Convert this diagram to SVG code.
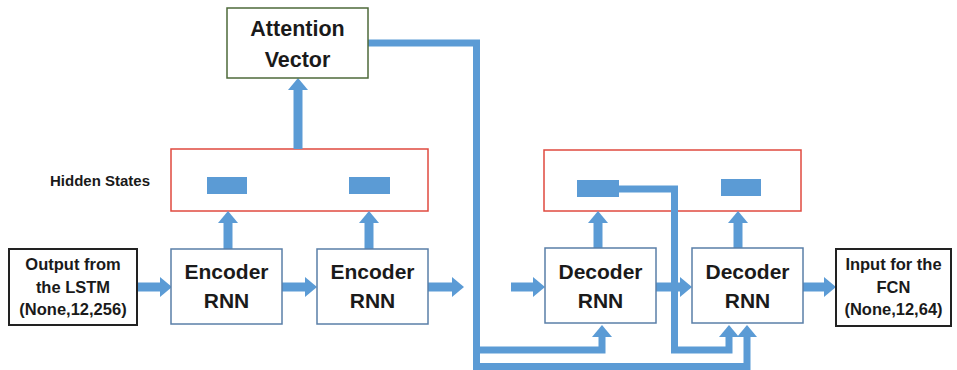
<svg xmlns="http://www.w3.org/2000/svg" width="957" height="370" viewBox="0 0 957 370">
<style>
.t{font-family:"Liberation Sans",Arial,sans-serif;font-weight:bold;fill:#1a1a1a;text-anchor:middle}
.big{font-size:21px}
.sm{font-size:16.5px}
.rnn{fill:#fff;stroke:#5a7fa8;stroke-width:1.5}
.io{fill:#fff;stroke:#222;stroke-width:2}
.hid{fill:#fff;stroke:#e04a3f;stroke-width:1.5}
.hs{fill:#5b9bd5}
.c{fill:none;stroke:#5b9bd5;stroke-width:9;marker-end:url(#ah)}
.w{fill:none;stroke:#5b9bd5;stroke-width:7}
.wa{fill:none;stroke:#5b9bd5;stroke-width:7;marker-end:url(#ah)}
</style>
<defs>
<marker id="ah" markerUnits="userSpaceOnUse" markerWidth="12" markerHeight="20" viewBox="0 0 12 20" refX="0" refY="10" orient="auto">
<path d="M0,0 L12,10 L0,20 Z" fill="#5b9bd5"/>
</marker>
</defs>
<rect width="957" height="370" fill="#fff"/>

<g id="hidden-enc">
<rect class="hid" x="171" y="149" width="257" height="62"/>
<rect class="hs" x="207" y="177" width="40" height="17"/>
<rect class="hs" x="349" y="177" width="41" height="17"/>
</g>
<g id="hidden-dec">
<rect class="hid" x="544" y="150" width="257" height="61"/>
<rect class="hs" x="577" y="180" width="42" height="17"/>
<rect class="hs" x="721" y="179" width="40" height="17"/>
</g>
<text class="t" x="100" y="186" style="font-size:15px">Hidden States</text>

<g id="connectors">
<path class="c" d="M137,287 H160"/>
<path class="c" d="M282,287 H305"/>
<path class="c" d="M428,287 H452"/>
<path class="c" d="M228,249 V223"/>
<path class="c" d="M369,249 V223"/>
<path class="c" d="M298,149 V90"/>
<path class="c" d="M511,287 H533"/>
<path class="c" d="M656,287 H680"/>
<path class="c" d="M803,287 H824"/>
<path class="c" d="M598,248 V223"/>
<path class="c" d="M738,248 V223"/>
<path class="wa" d="M368,43 H476.5 V366.5 H747 V337"/>
<path class="wa" d="M476.5,350 H602 V337"/>
<path class="wa" d="M619,189 H674.5 V350 H729 V337"/>
</g>

<g id="attention">
<rect x="227" y="8" width="141" height="70" fill="#fff" stroke="#4e6a3a" stroke-width="1.5"/>
<text class="t" x="297.5" y="36" style="font-size:21.5px">Attention</text>
<text class="t" x="297.5" y="67" style="font-size:21.5px">Vector</text>
</g>
<g id="output-lstm">
<rect class="io" x="9" y="249" width="128" height="76"/>
<text class="t sm" x="73" y="270">Output from</text>
<text class="t sm" x="73" y="292.5">the LSTM</text>
<text class="t sm" x="73" y="315">(None,12,256)</text>
</g>
<g id="encoder1">
<rect class="rnn" x="171" y="249" width="111" height="75"/>
<text class="t big" x="226.5" y="279">Encoder</text>
<text class="t big" x="226.5" y="308">RNN</text>
</g>
<g id="encoder2">
<rect class="rnn" x="317" y="249" width="111" height="75"/>
<text class="t big" x="372.5" y="279">Encoder</text>
<text class="t big" x="372.5" y="308">RNN</text>
</g>
<g id="decoder1">
<rect class="rnn" x="545" y="248" width="111" height="75"/>
<text class="t big" x="600.5" y="279">Decoder</text>
<text class="t big" x="600.5" y="308">RNN</text>
</g>
<g id="decoder2">
<rect class="rnn" x="692" y="248" width="111" height="75"/>
<text class="t big" x="747.5" y="279">Decoder</text>
<text class="t big" x="747.5" y="308">RNN</text>
</g>
<g id="input-fcn">
<rect class="io" x="836" y="249" width="115" height="77"/>
<text class="t sm" x="893.5" y="270">Input for the</text>
<text class="t sm" x="893.5" y="292.5">FCN</text>
<text class="t sm" x="893.5" y="315">(None,12,64)</text>
</g>
</svg>
